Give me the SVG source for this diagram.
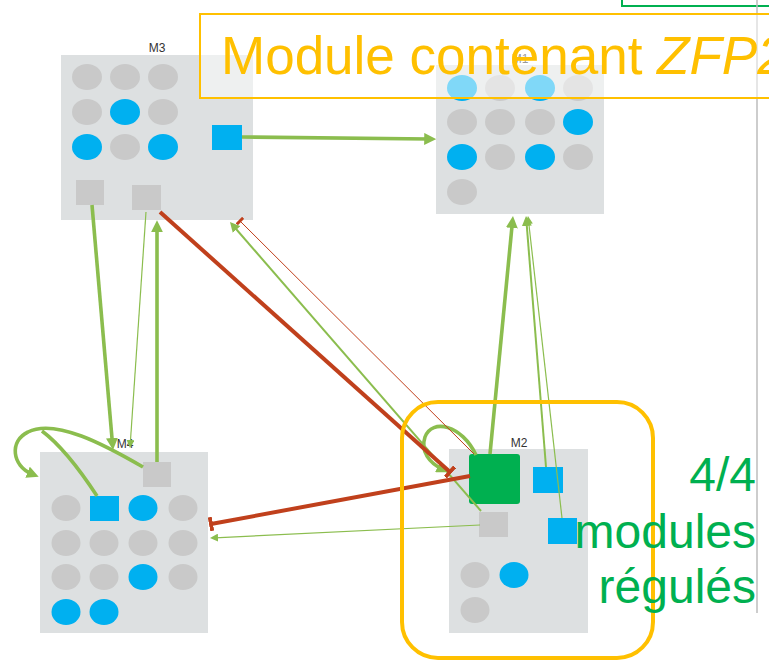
<svg xmlns="http://www.w3.org/2000/svg" width="769" height="663" viewBox="0 0 769 663">
  <style>
    .panel { fill: #dde0e1; }
    .g { fill: #c9c9c9; }
    .b { fill: #00b0f0; }
    .lbl { font-family: "Liberation Sans", Arial, sans-serif; font-size: 12px; fill: #333; text-anchor: middle; }
    .act { fill: none; stroke: #8bbd4e; stroke-linecap: butt; }
    .inh { fill: none; stroke: #c0401c; }
    .lg { stroke-width: 3.6; marker-end: url(#arr-lg); }
    .md { stroke-width: 2; marker-end: url(#arr-md); }
    .sm { stroke-width: 1.2; marker-end: url(#arr-sm); }
  </style>
  <defs>
    <marker id="arr-lg" markerUnits="userSpaceOnUse" viewBox="0 0 10 10" markerWidth="12" markerHeight="12" refX="4" refY="5" orient="auto">
      <path d="M0,0 L10,5 L0,10 z" fill="#8bbd4e"/>
    </marker>
    <marker id="arr-md" markerUnits="userSpaceOnUse" viewBox="0 0 10 10" markerWidth="10" markerHeight="10" refX="4" refY="5" orient="auto">
      <path d="M0,0 L10,5 L0,10 z" fill="#8bbd4e"/>
    </marker>
    <marker id="arr-sm" markerUnits="userSpaceOnUse" viewBox="0 0 10 10" markerWidth="8" markerHeight="8" refX="4" refY="5" orient="auto">
      <path d="M0,0 L10,5 L0,10 z" fill="#8bbd4e"/>
    </marker>
    <marker id="tee-lg" markerUnits="userSpaceOnUse" viewBox="0 0 4 14" markerWidth="4" markerHeight="14" refX="2" refY="7" orient="auto">
      <rect x="0" y="0" width="4" height="14" fill="#c0401c"/>
    </marker>
    <marker id="tee-sm" markerUnits="userSpaceOnUse" viewBox="0 0 3 9" markerWidth="3" markerHeight="9" refX="1.5" refY="4.5" orient="auto">
      <rect x="0" y="0" width="3" height="9" fill="#c0401c"/>
    </marker>
  </defs>

  <rect width="769" height="663" fill="#ffffff"/>

  <!-- frame edges at the top right -->
  <rect x="622" y="-6" width="200" height="12" fill="none" stroke="#00b050" stroke-width="2"/>
  <line x1="757" y1="0" x2="757" y2="613" stroke="#bcbcbc" stroke-width="1.5"/>

  <!-- module M3 -->
  <g id="M3">
    <rect class="panel" x="61" y="55" width="192" height="165"/>
    <text class="lbl" x="157" y="52">M3</text>
    <ellipse class="g" cx="87" cy="77" rx="15" ry="13"/>
    <ellipse class="g" cx="125" cy="77" rx="15" ry="13"/>
    <ellipse class="g" cx="163" cy="77" rx="15" ry="13"/>
    <ellipse class="g" cx="87" cy="112" rx="15" ry="13"/>
    <ellipse class="b" cx="125" cy="112" rx="15" ry="13"/>
    <ellipse class="g" cx="163" cy="112" rx="15" ry="13"/>
    <ellipse class="b" cx="87" cy="147" rx="15" ry="13"/>
    <ellipse class="g" cx="125" cy="147" rx="15" ry="13"/>
    <ellipse class="b" cx="163" cy="147" rx="15" ry="13"/>
    <rect class="b" x="212" y="125" width="30" height="25"/>
    <rect class="g" x="76" y="180" width="28" height="25"/>
    <rect class="g" x="132" y="185" width="29" height="25"/>
  </g>

  <!-- module M1 -->
  <g id="M1">
    <rect class="panel" x="436" y="65" width="168" height="149"/>
    <text class="lbl" x="520" y="63">M1</text>
    <ellipse class="b" cx="462" cy="88" rx="15" ry="13"/>
    <ellipse class="g" cx="500" cy="88" rx="15" ry="13"/>
    <ellipse class="b" cx="540" cy="88" rx="15" ry="13"/>
    <ellipse class="g" cx="578" cy="88" rx="15" ry="13"/>
    <ellipse class="g" cx="462" cy="122" rx="15" ry="13"/>
    <ellipse class="g" cx="500" cy="122" rx="15" ry="13"/>
    <ellipse class="g" cx="540" cy="122" rx="15" ry="13"/>
    <ellipse class="b" cx="578" cy="122" rx="15" ry="13"/>
    <ellipse class="b" cx="462" cy="157" rx="15" ry="13"/>
    <ellipse class="g" cx="500" cy="157" rx="15" ry="13"/>
    <ellipse class="b" cx="540" cy="157" rx="15" ry="13"/>
    <ellipse class="g" cx="578" cy="157" rx="15" ry="13"/>
    <ellipse class="g" cx="462" cy="192" rx="15" ry="13"/>
  </g>

  <!-- module M4 -->
  <g id="M4">
    <rect class="panel" x="40" y="452" width="168" height="181"/>
    <text class="lbl" x="125" y="448">M4</text>
    <rect class="g" x="143" y="462" width="28" height="25"/>
    <ellipse class="g" cx="66" cy="508" rx="14.5" ry="13"/>
    <rect class="b" x="90" y="496" width="29" height="25"/>
    <ellipse class="b" cx="143" cy="508" rx="14.5" ry="13"/>
    <ellipse class="g" cx="183" cy="508" rx="14.5" ry="13"/>
    <ellipse class="g" cx="66" cy="543" rx="14.5" ry="13"/>
    <ellipse class="g" cx="104" cy="543" rx="14.5" ry="13"/>
    <ellipse class="g" cx="143" cy="543" rx="14.5" ry="13"/>
    <ellipse class="g" cx="183" cy="543" rx="14.5" ry="13"/>
    <ellipse class="g" cx="66" cy="577" rx="14.5" ry="13"/>
    <ellipse class="g" cx="104" cy="577" rx="14.5" ry="13"/>
    <ellipse class="b" cx="143" cy="577" rx="14.5" ry="13"/>
    <ellipse class="g" cx="183" cy="577" rx="14.5" ry="13"/>
    <ellipse class="b" cx="66" cy="612" rx="14.5" ry="13"/>
    <ellipse class="b" cx="104" cy="612" rx="14.5" ry="13"/>
  </g>

  <!-- module M2 -->
  <g id="M2">
    <rect class="panel" x="449" y="449" width="139" height="184"/>
    <text class="lbl" x="519" y="447">M2</text>
    <rect x="469" y="454" width="51" height="50" rx="3" fill="#00b050"/>
    <rect class="b" x="533" y="467" width="30" height="26"/>
    <rect class="b" x="548" y="518" width="29" height="26"/>
    <rect class="g" x="479" y="512" width="29" height="25"/>
    <ellipse class="g" cx="475" cy="575" rx="14.5" ry="13"/>
    <ellipse class="b" cx="514" cy="575" rx="14.5" ry="13"/>
    <ellipse class="g" cx="475" cy="610" rx="14.5" ry="13"/>
  </g>

  <!-- regulation links -->
  <g id="connectors">
    <!-- activations -->
    <line class="act lg" x1="242" y1="137" x2="429" y2="139"/>
    <line class="act lg" x1="92" y1="205" x2="112.4" y2="442.8"/>
    <line class="act sm" x1="146" y1="212" x2="130.3" y2="443.2"/>
    <line class="act lg" x1="157" y1="462" x2="157" y2="227.5"/>
    <path class="act lg" d="M143,467 C105,445 55,418 28,432 C9,441 12,466 32,474"/>
    <path class="act" stroke-width="3.6" d="M97,496 C80,470 62,446 42,431"/>
    <line class="act sm" x1="480" y1="525" x2="214.8" y2="537.8"/>
    <line class="act md" x1="481" y1="511" x2="233.9" y2="226.5"/>
    <path class="act lg" d="M476,455 C462,425 432,418 425,437 C420,452 430,463 442,469"/>
    <line class="act lg" x1="490" y1="454" x2="512.3" y2="223.2"/>
    <line class="act md" x1="546" y1="467" x2="526.5" y2="222"/>
    <line class="act sm" x1="562" y1="518" x2="528.5" y2="220.8"/>
    <!-- inhibitions -->
    <line class="inh" stroke-width="4" marker-end="url(#tee-lg)" x1="160" y1="212" x2="450" y2="472"/>
    <line class="inh" stroke-width="4" marker-end="url(#tee-lg)" x1="470" y1="476" x2="211" y2="524"/>
    <line class="inh" stroke-width="1" marker-end="url(#tee-sm)" x1="474" y1="454" x2="240" y2="221"/>
  </g>

  <!-- highlight around M2 -->
  <rect x="402" y="402" width="251" height="256" rx="36" fill="none" stroke="#ffc000" stroke-width="4"/>

  <!-- title banner -->
  <g id="title">
    <rect x="200" y="14" width="620" height="84" fill="#ffffff" fill-opacity="0.5" stroke="#ffc000" stroke-width="2"/>
    <text x="221" y="74" font-family="'Liberation Sans', Arial, sans-serif" font-size="53" fill="#ffc000">Module contenant <tspan font-style="italic">ZFP2</tspan></text>
  </g>

  <!-- count of regulated modules -->
  <g id="count" font-family="'Liberation Sans', Arial, sans-serif" font-size="48" fill="#00b050" text-anchor="end">
    <text x="756" y="491">4/4</text>
    <text x="756" y="548">modules</text>
    <text x="756" y="603">régulés</text>
  </g>
</svg>
